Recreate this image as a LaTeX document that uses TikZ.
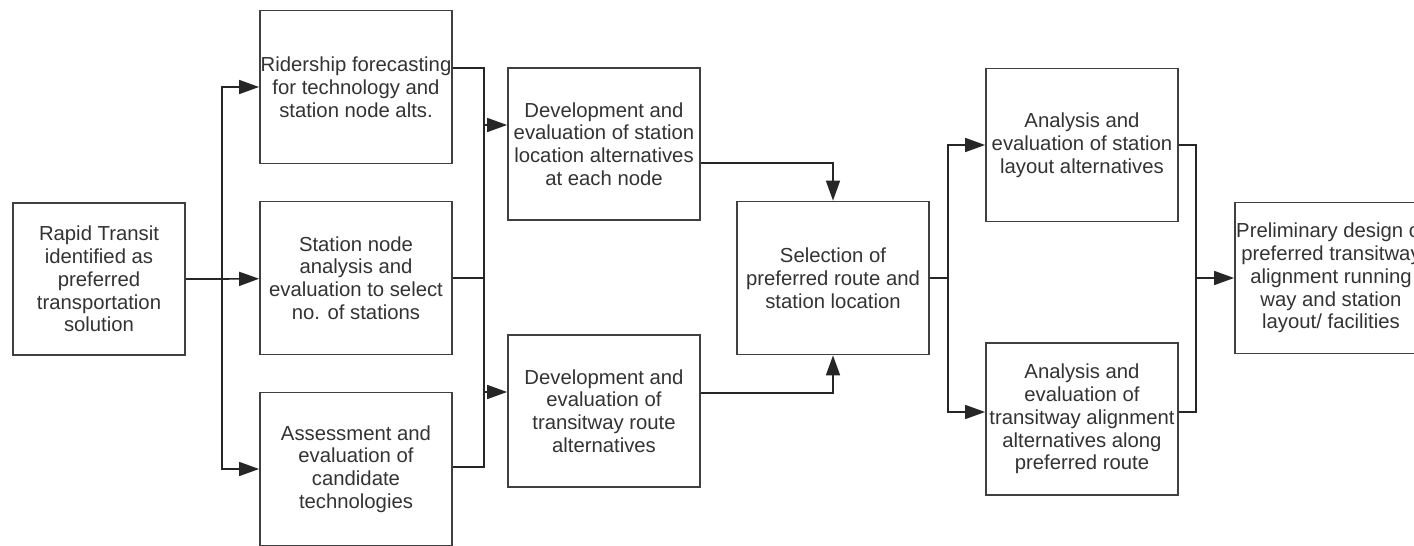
\documentclass[tikz,border=0pt]{standalone}
\usepackage{fontspec}
\setmainfont{Liberation Sans}
\usetikzlibrary{positioning,arrows.meta}
\tikzset{block/.style={draw=black!75, line width=1.8pt, text=black!80, minimum width=192pt, minimum height=153pt, align=center, inner sep=0pt, font=\fontsize{20.3}{22.8}\selectfont},
line/.style={draw=black!85, line width=1.6pt, -{Triangle[length=20pt,width=14pt]}},
wire/.style={draw=black!85, line width=1.6pt}
}
\begin{document}
\begin{tikzpicture}[x=1pt, y=-1pt]
    \useasboundingbox[fill=white] (0,0) rectangle (1414,546);
    \clip (0,0) rectangle (1414,546);
    % Nodes
    \node [block, minimum width=172pt, minimum height=152pt] (rapid) at (99,279) {Rapid Transit\\identified as\\preferred\\transportation\\solution};
    \node [block] (ridership) at (356,87) {Ridership forecasting\\for technology and\\station node alts.};
    \node [block] (stationnode) at (356,278) {Station node\\analysis and\\evaluation to select\\no. of stations};
    \node [block] (assessment) at (356,469) {Assessment and\\evaluation of\\candidate\\technologies};
    \node [block, minimum height=152pt] (devlocation) at (604,144) {Development and\\evaluation of station\\location alternatives\\at each node};
    \node [block, minimum height=152pt] (devroute) at (604,411) {Development and\\evaluation of\\transitway route\\alternatives};
    \node [block] (selection) at (833,278) {Selection of\\preferred route and\\station location};
    \node [block] (layout) at (1082,145) {Analysis and\\evaluation of station\\layout alternatives};
    \node [block, minimum height=152pt] (alignment) at (1082,419) {Analysis and\\evaluation of\\transitway alignment\\alternatives along\\preferred route};
    \node [block, minimum height=151pt] (prelim) at (1331,278) {Preliminary design of\\preferred transitway\\alignment running\\way and station\\layout/ facilities};
    % Junctions
    \coordinate (split1) at (222,279);
    \coordinate (join1) at (484,278);
    \coordinate (split2) at (948,278);
    \coordinate (join2) at (1196,278);
    % Arrows
    \draw [wire] (rapid) -- (split1);
    \draw [line] (split1) |- (ridership);
    \draw [line] (split1) -- (stationnode);
    \draw [line] (split1) |- (assessment);
    \draw [wire] ([yshift=19pt]ridership.east) -| (join1);
    \draw [wire] (stationnode.east) -- (join1);
    \draw [wire] ([yshift=2pt]assessment.east) -| (join1);
    \draw [line] (join1) |- ([yshift=19pt]devlocation.west);
    \draw [line] (join1) |- ([yshift=19pt]devroute.west);
    \draw [line] ([yshift=-19pt]devlocation.east) -| (selection);
    \draw [line] ([yshift=18pt]devroute.east) -| (selection);
    \draw [wire] (selection) -- (split2);
    \draw [line] (split2) |- (layout);
    \draw [line] (split2) |- ([yshift=7pt]alignment.west);
    \draw [wire] (layout.east) -| (join2);
    \draw [wire] ([yshift=7pt]alignment.east) -| (join2);
    \draw [line] (join2) -- (prelim);
  \end{tikzpicture}
\end{document}
